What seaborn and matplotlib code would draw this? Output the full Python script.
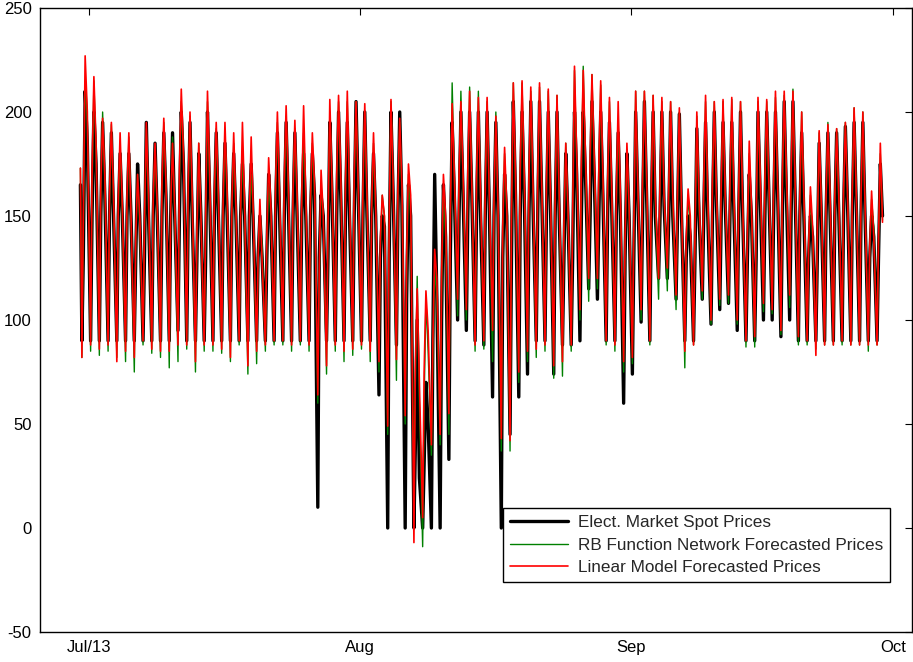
import numpy as np
import pandas as pd
import matplotlib
matplotlib.use("Agg")
import matplotlib.pyplot as plt
import seaborn as sns

# ---------------- data ----------------
start_day = "2013-06-30"
n_days = 92
start_values = {"spot": 165, "rbf": 173, "lin": 173}

spot_low = [90,90,90,90,90,90,90,90,90,90, 90,95,90,90,90,90,90,90,90,90,
            90,90,90,90,90,90,90,10,90,90, 90,90,90,90,64,0,88,0,0,0,
            0,0,33,100,95,90,88,63,0,45, 63,74,90,90,74,88,88,90,115,110,
            90,90,60,74,99,90,120,120,110,90, 90,110,98,105,108,95,90,90,100,100,
            92,100,90,90,90,90,90,90,90,90, 90,90]
spot_morn = [130,150,150,150,150,150,130,130,150,150, 150,150,150,130,130,150,150,150,150,150,
             130,130,150,150,150,150,150,130,130,150, 150,150,150,150,130,130,150,110,40,30,
             90,100,130,150,150,150,150,150,130,130, 150,150,150,150,150,130,130,150,150,150,
             150,150,130,130,150,150,150,150,150,130, 130,150,150,150,150,150,130,130,150,150,
             150,150,150,130,130,150,150,150,150,150, 130,130]
spot_peak = [210,200,195,190,180,180,175,195,185,190, 190,200,195,180,200,190,185,180,175,175,
             150,170,190,195,190,180,180,160,195,200, 195,205,200,180,150,200,200,165,100,70,
             170,165,195,200,200,200,200,195,170,205, 200,205,205,200,200,180,200,200,205,200,
             195,190,180,200,205,200,200,200,199,150, 192,195,200,195,195,200,170,200,200,200,
             205,205,190,150,185,190,190,193,195,195, 150,175]
spot_eve = [185,175,160,150,150,150,150,150,150,160, 150,175,150,150,160,150,150,150,150,145,
            130,150,150,155,150,150,160,150,160,160, 150,160,150,150,145,160,155,150,24,50,
            110,140,160,160,160,150,155,150,150,160, 160,155,160,155,150,150,170,170,170,160,
            155,150,150,160,160,150,155,150,150,140, 150,150,155,155,150,150,150,160,160,160,
            160,160,150,140,150,150,150,155,155,150, 140,150]

rbf_low = [82,85,83,85,82,80,75,88,84,82, 77,80,86,75,85,85,84,80,88,74,
           79,85,88,88,85,88,85,60,74,85, 80,83,86,80,75,45,71,50,20,-9,
           35,40,45,102,100,85,86,80,37,37, 70,80,82,85,72,73,85,100,109,115,
           88,85,75,79,100,88,110,114,105,77, 88,110,98,107,108,98,87,87,104,103,
           93,106,88,88,86,88,88,88,88,88, 85,88]
rbf_morn = [140,160,158,155,150,152,135,140,155,160, 150,165,160,138,140,155,152,150,148,145,
            128,135,160,162,158,155,150,120,140,165, 160,165,158,150,135,140,155,120,70,60,
            80,110,140,165,165,160,160,155,140,145, 165,165,162,160,158,140,145,170,170,168,
            160,155,135,140,160,160,162,160,158,135, 138,160,162,160,158,158,138,140,160,162,
            162,165,155,132,138,155,155,158,158,155, 132,135]
rbf_peak = [215,215,200,194,185,188,170,192,183,195, 188,205,198,185,205,192,190,185,180,170,
            152,165,195,198,192,190,185,165,200,205, 205,205,200,185,160,205,195,170,121,110,
            125,160,214,210,212,210,205,200,180,214, 214,210,212,210,208,185,220,222,218,213,
            205,195,182,210,210,208,205,205,200,160, 198,205,205,205,206,205,180,205,205,207,
            208,211,200,160,190,195,192,195,202,200, 158,180]
rbf_eve = [195,180,165,155,150,150,145,155,150,165, 150,180,155,150,165,155,155,150,150,150,
           135,150,155,160,155,155,160,150,165,165, 160,160,155,150,150,165,160,150,60,85,
           110,140,170,165,165,160,160,150,150,165, 165,160,165,160,155,150,175,175,175,165,
           160,155,150,165,165,155,160,155,155,145, 155,155,160,160,155,155,150,165,160,165,
           165,165,155,140,155,155,155,160,160,155, 145,148]

lin_low = [82,88,86,88,80,85,82,90,86,85, 85,88,88,80,88,88,86,82,90,78,
           85,88,90,90,88,90,88,64,78,88, 85,86,88,85,80,49,81,54,-7,5,
           40,45,55,110,105,88,90,95,43,42, 75,85,86,88,78,80,88,105,120,120,
           90,88,80,82,105,90,120,125,112,85, 88,114,100,110,112,100,90,92,108,105,
           95,112,92,90,83,88,88,90,88,88, 88,88]
lin_morn = [150,170,165,160,158,160,140,148,160,165, 155,172,165,142,150,162,158,155,152,150,
            130,140,165,168,162,160,158,125,145,170, 165,170,165,155,140,145,162,130,80,75,
            90,120,150,170,172,168,165,160,145,150, 172,170,168,165,162,145,150,178,178,175,
            165,160,140,145,168,165,168,165,162,140, 142,165,168,165,165,162,142,145,168,168,
            168,172,160,135,142,160,160,162,162,160, 135,138]
lin_peak = [227,217,197,195,190,190,170,195,185,197, 185,211,200,185,210,195,195,190,195,188,
            158,178,200,203,196,203,190,172,206,208, 210,205,204,190,160,206,197,175,115,114,
            134,170,204,205,210,207,207,198,183,214, 215,212,214,211,208,185,222,220,218,215,
            207,205,185,210,210,208,207,205,202,163, 200,208,205,206,207,205,186,207,206,210,
            210,210,200,164,191,194,192,195,202,200, 162,185]
lin_eve = [200,185,170,160,155,150,150,160,155,165, 155,180,160,150,170,160,160,155,155,150,
           128,155,160,165,160,160,165,150,165,170, 160,165,160,155,150,165,165,160,70,95,
           120,150,170,170,165,160,160,155,155,170, 170,165,165,160,160,155,180,180,180,170,
           165,160,155,165,170,160,160,160,155,150, 160,160,160,160,160,155,155,170,165,165,
           170,165,160,145,155,160,160,160,160,155, 140,147]

series_labels = ["Elect. Market Spot Prices",
                 "RB Function Network Forecasted Prices",
                 "Linear Model Forecasted Prices"]
tick_dates = ["2013-07-01", "2013-08-01", "2013-09-01", "2013-10-01"]
tick_labels = ["Jul/13", "Aug", "Sep", "Oct"]
y_ticks = [-50, 0, 50, 100, 150, 200, 250]

# ---------------- build long table ----------------
days = pd.date_range(start_day, periods=n_days, freq="D")
hours = pd.to_timedelta([4, 8, 13, 19], unit="h")
times = (days.values[:, None] + hours.values[None, :]).ravel()
times = np.concatenate([[days.values[0]], times])

def make(key, low, morn, peak, eve, label):
    vals = np.column_stack([low, morn, peak, eve]).ravel()
    vals = np.concatenate([[start_values[key]], vals])
    return pd.DataFrame({"time": pd.to_datetime(times), "price": vals, "series": label})

df = pd.concat([
    make("spot", spot_low, spot_morn, spot_peak, spot_eve, series_labels[0]),
    make("rbf", rbf_low, rbf_morn, rbf_peak, rbf_eve, series_labels[1]),
    make("lin", lin_low, lin_morn, lin_peak, lin_eve, series_labels[2]),
], ignore_index=True)

# ---------------- plot ----------------
sns.set_theme(style="white")
plt.rcParams["font.family"] = ["Liberation Sans", "DejaVu Sans"]
plt.rcParams["axes.unicode_minus"] = False

fig = plt.figure(figsize=(9.13, 6.62), dpi=100)
ax = fig.add_axes([40 / 913, 1 - 632 / 662, 872 / 913, 624 / 662])

styles = [("black", 2.4), ((0, 0.5, 0), 1.0), ((1, 0, 0), 1.2)]
for lab, (col, lw) in zip(series_labels, styles):
    sns.lineplot(data=df[df["series"] == lab], x="time", y="price", ax=ax,
                 color=col, linewidth=lw, estimator=None, sort=False, label=lab)

ax.set_xlim(pd.Timestamp("2013-06-25 09:00"), pd.Timestamp("2013-10-03 04:00"))
ax.set_ylim(-50, 250)
ax.set_xticks([pd.Timestamp(t) for t in tick_dates])
ax.set_xticklabels(tick_labels)
ax.set_yticks(y_ticks)
ax.set_xlabel("")
ax.set_ylabel("")
ax.tick_params(direction="in", length=5, width=0.8, top=True, right=True,
               labelsize=12, colors="black", pad=6)
for s in ax.spines.values():
    s.set_visible(True)
    s.set_color("black")
    s.set_linewidth(1.0)

leg = ax.legend(loc="lower right", bbox_to_anchor=(0.975, 0.08), borderaxespad=0,
                fontsize=12.3, frameon=True, fancybox=False, shadow=False,
                handlelength=3.4, labelspacing=0.45, borderpad=0.4,
                handletextpad=0.6)
leg.get_frame().set_edgecolor("black")
leg.get_frame().set_linewidth(1.0)
leg.get_frame().set_alpha(1)

fig.savefig("out.png", dpi=100)
